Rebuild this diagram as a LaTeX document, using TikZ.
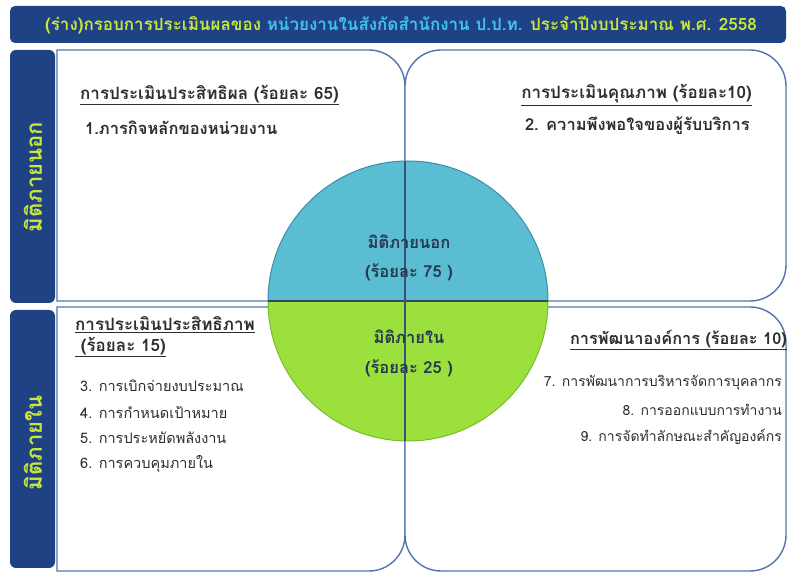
\documentclass[tikz,border=0pt]{standalone}
\usepackage{fontspec}
\setmainfont[Script=Thai]{Loma}
\definecolor{navy}{HTML}{1E4283}
\definecolor{ygreen}{HTML}{C9E63A}
\definecolor{tcyan}{HTML}{3FC6F0}
\definecolor{qborder}{HTML}{5274AC}
\definecolor{ctop}{HTML}{5BBDD2}
\definecolor{cbot}{HTML}{9BE03C}
\definecolor{ctopb}{HTML}{3A8FA8}
\definecolor{cbotb}{HTML}{78BE2A}
\definecolor{txt}{HTML}{2E2E2E}
\definecolor{ctxt}{HTML}{26384F}
\tikzset{
  bar/.style={fill=navy, draw=none, rounded corners=6pt},
  quad/.style={fill=white, draw=qborder, line width=1.4pt},
  head/.style={font=\fontsize{17}{19}\selectfont\bfseries, text=txt, inner sep=0pt},
  itembig/.style={font=\fontsize{16.5}{19}\selectfont\bfseries, text=txt, inner sep=0pt},
  itemsmall/.style={font=\fontsize{14.5}{16}\selectfont, text=txt, inner sep=0pt},
  ctext/.style={font=\fontsize{16.5}{18}\selectfont\bfseries, text=ctxt, inner sep=0pt},
  side/.style={font=\fontsize{22}{24}\selectfont\bfseries, text=ygreen, rotate=90, inner sep=0pt}
}
\begin{document}
\begin{tikzpicture}[x=1pt,y=1pt]
\useasboundingbox (0,0) rectangle (790,572);
% title bar
\fill[bar, rounded corners=5pt] (10,529) rectangle (786,566);
\node[font=\fontsize{17}{19}\selectfont\bfseries, inner sep=0pt] (title) at (401,547)
  {\textcolor{ygreen}{(ร่าง)กรอบการประเมินผลของ} \textcolor{tcyan}{หน่วยงานในสังกัดสำนักงาน ป.ป.ท.} \textcolor{ygreen}{ประจำปีงบประมาณ พ.ศ. 2558}};
% side bars
\fill[bar] (10,269) rectangle (55,522);
\fill[bar] (10,4) rectangle (55,262);
\node[side] (sideout) at (33,395) {มิติภายนอก};
\node[side] (sidein) at (33,129) {มิติภายใน};
% quadrants
\draw[quad] (57,271) -- (57,522) -- (369,522) arc[start angle=90,end angle=0,radius=36] -- (405,271) -- cycle;
\draw[quad] (405,271) -- (405,486) arc[start angle=180,end angle=90,radius=36] -- (750,522) arc[start angle=90,end angle=0,radius=36] -- (786,307) arc[start angle=0,end angle=-90,radius=36] -- cycle;
\draw[quad] (57,265) -- (405,265) -- (405,37) arc[start angle=0,end angle=-90,radius=36] -- (57,1) -- cycle;
\draw[quad] (405,265) -- (750,265) arc[start angle=90,end angle=0,radius=36] -- (786,37) arc[start angle=0,end angle=-90,radius=36] -- (441,1) arc[start angle=-90,end angle=-180,radius=36] -- cycle;
% circle
\filldraw[fill=ctop, draw=ctopb, line width=1pt] (268,271) arc[start angle=180,end angle=0,radius=140] -- cycle;
\filldraw[fill=cbot, draw=cbotb, line width=1pt] (268,271) arc[start angle=180,end angle=360,radius=140] -- cycle;
\draw[qborder!60!black, line width=1.4pt] (268,271) -- (548,271);
\draw[qborder!70!black, line width=1.2pt] (405,131) -- (405,411);
\node[ctext] (c1) at (409,330) {มิติภายนอก};
\node[ctext] (c2) at (409,300) {(ร้อยละ 75 )};
\node[ctext] (c3) at (409,235) {มิติภายใน};
\node[ctext] (c4) at (409,204) {(ร้อยละ 25 )};
% top-left
\node[head, anchor=west] (h1) at (80,477) {\underline{การประเมินประสิทธิผล (ร้อยละ 65)}};
\node[itembig, anchor=west] (i1) at (85,444) {1.ภารกิจหลักของหน่วยงาน};
% top-right
\node[head, anchor=east] (h2) at (752,477) {\underline{การประเมินคุณภาพ (ร้อยละ10)}};
\node[itembig, anchor=east] (i2) at (750,446) {2. ความพึงพอใจของผู้รับบริการ};
% bottom-left
\node[head, anchor=west] (h3) at (75,247) {\underline{การประเมินประสิทธิภาพ}};
\node[head, anchor=west] (h3b) at (75,225) {\underline{ (ร้อยละ 15)}};
\node[itemsmall, anchor=west] (i3) at (80,186) {3. การเบิกจ่ายงบประมาณ};
\node[itemsmall, anchor=west] (i4) at (80,160) {4. การกำหนดเป้าหมาย};
\node[itemsmall, anchor=west] (i5) at (80,134) {5. การประหยัดพลังงาน};
\node[itemsmall, anchor=west] (i6) at (80,108) {6. การควบคุมภายใน};
% bottom-right
\node[head, font=\fontsize{16.3}{19}\selectfont\bfseries, anchor=east] (h4) at (787,232) {\underline{การพัฒนาองค์การ (ร้อยละ 10)}};
\node[itemsmall, font=\fontsize{14}{16}\selectfont, anchor=east] (i7) at (782,189) {7. การพัฒนาการบริหารจัดการบุคลากร};
\node[itemsmall, font=\fontsize{14}{16}\selectfont, anchor=east] (i8) at (782,162) {8. การออกแบบการทำงาน};
\node[itemsmall, font=\fontsize{14}{16}\selectfont, anchor=east] (i9) at (782,135) {9. การจัดทำลักษณะสำคัญองค์กร};
\end{tikzpicture}
\end{document}
